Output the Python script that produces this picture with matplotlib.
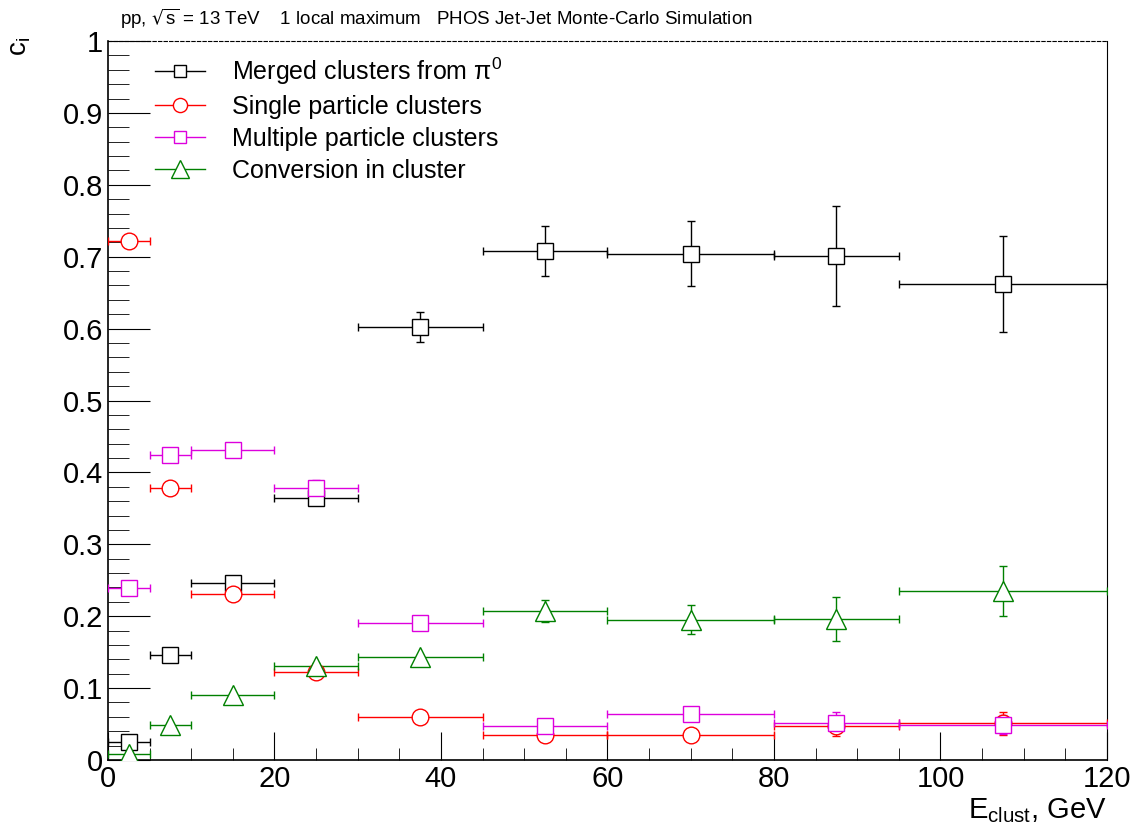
import numpy as np
import matplotlib
matplotlib.use("Agg")
from matplotlib import pyplot as plt
from matplotlib.lines import Line2D
from matplotlib.ticker import MultipleLocator

# bin edges of E_clust (GeV)
bin_lo = [0, 5, 10, 20, 30, 45, 60, 80, 95]
bin_hi = [5, 10, 20, 30, 45, 60, 80, 95, 120]

# fractions and errors
merged = [0.025, 0.146, 0.246, 0.365, 0.602, 0.708, 0.704, 0.701, 0.662]
merged_err = [0.003, 0.004, 0.005, 0.008, 0.021, 0.035, 0.045, 0.069, 0.067]
single = [0.722, 0.379, 0.231, 0.123, 0.060, 0.035, 0.035, 0.047, 0.051]
single_err = [0.002, 0.003, 0.003, 0.003, 0.002, 0.002, 0.002, 0.014, 0.016]
multi = [0.239, 0.424, 0.431, 0.379, 0.191, 0.047, 0.064, 0.052, 0.049]
multi_err = [0.003, 0.004, 0.004, 0.010, 0.008, 0.004, 0.009, 0.015, 0.013]
conv = [0.009, 0.049, 0.090, 0.131, 0.143, 0.207, 0.195, 0.196, 0.235]
conv_err = [0.002, 0.002, 0.003, 0.004, 0.003, 0.015, 0.020, 0.031, 0.035]

labels = ["Merged clusters from π$^{0}$", "Single particle clusters",
          "Multiple particle clusters", "Conversion in cluster"]

lo = np.array(bin_lo, float)
hi = np.array(bin_hi, float)
xc = (lo + hi) / 2
xerr = (hi - lo) / 2

plt.rcParams['font.family'] = ['Liberation Sans', 'DejaVu Sans']
plt.rcParams['mathtext.default'] = 'regular'

fig = plt.figure(figsize=(11.33, 8.27), dpi=100)
ax = fig.add_axes([0.0953, 0.081, 0.8817, 0.8694])

series = [
    (merged, merged_err, 'black', 's', 11),
    (single, single_err, 'red', 'o', 12),
    (multi, multi_err, '#dd00dd', 's', 11),
    (conv, conv_err, 'green', '^', 15),
]

for vals, errs, col, mk, ms in series:
    ax.errorbar(xc, vals, xerr=xerr, yerr=errs, fmt=mk, ms=ms, mfc='white',
                mec=col, mew=1.0, ecolor=col, elinewidth=1.0, capsize=3,
                capthick=1.0, zorder=3)

ax.set_xlim(0, 120)
ax.set_ylim(0, 1)
ax.xaxis.set_major_locator(MultipleLocator(20))
ax.xaxis.set_minor_locator(MultipleLocator(5))
ax.yaxis.set_minor_locator(MultipleLocator(0.02))
ax.set_yticks(np.arange(0, 1.01, 0.1))
ax.set_yticklabels(["0"] + ["%.1f" % v for v in np.arange(0.1, 0.95, 0.1)] + ["1"])
ax.tick_params(which='both', direction='in', top=False, right=False, labelsize=21)
ax.tick_params(axis='y', which='major', length=30)
ax.tick_params(axis='y', which='minor', length=15)
ax.tick_params(axis='x', which='major', length=20)
ax.tick_params(axis='x', which='minor', length=9)
ax.spines['top'].set_linestyle((0, (3, 2)))
ax.spines['top'].set_linewidth(0.8)
for s in ['left', 'bottom']:
    ax.spines[s].set_linewidth(1.2)

fig.text(0.106, 0.962, "pp, $\\sqrt{s}$ = 13 TeV    1 local maximum   PHOS Jet-Jet Monte-Carlo Simulation",
         fontsize=13.5, ha='left', va='bottom')
fig.text(0.018, 0.955, "c$_{i}$", rotation=90, fontsize=20, ha='center', va='top')
fig.text(0.977, 0.003, "E$_{clust}$, GeV", fontsize=21, ha='right', va='bottom')

handles = [Line2D([], [], color=c, marker=m, ms=ms * 0.85, mfc='white', mec=c, lw=1.0)
           for _, _, c, m, ms in series]
ax.legend(handles, labels, loc='upper left', bbox_to_anchor=(0.037, 0.994),
          frameon=False, fontsize=18, handlelength=2.0, labelspacing=0.32,
          handletextpad=1.1, borderaxespad=0)

fig.savefig("out.png", dpi=100)
